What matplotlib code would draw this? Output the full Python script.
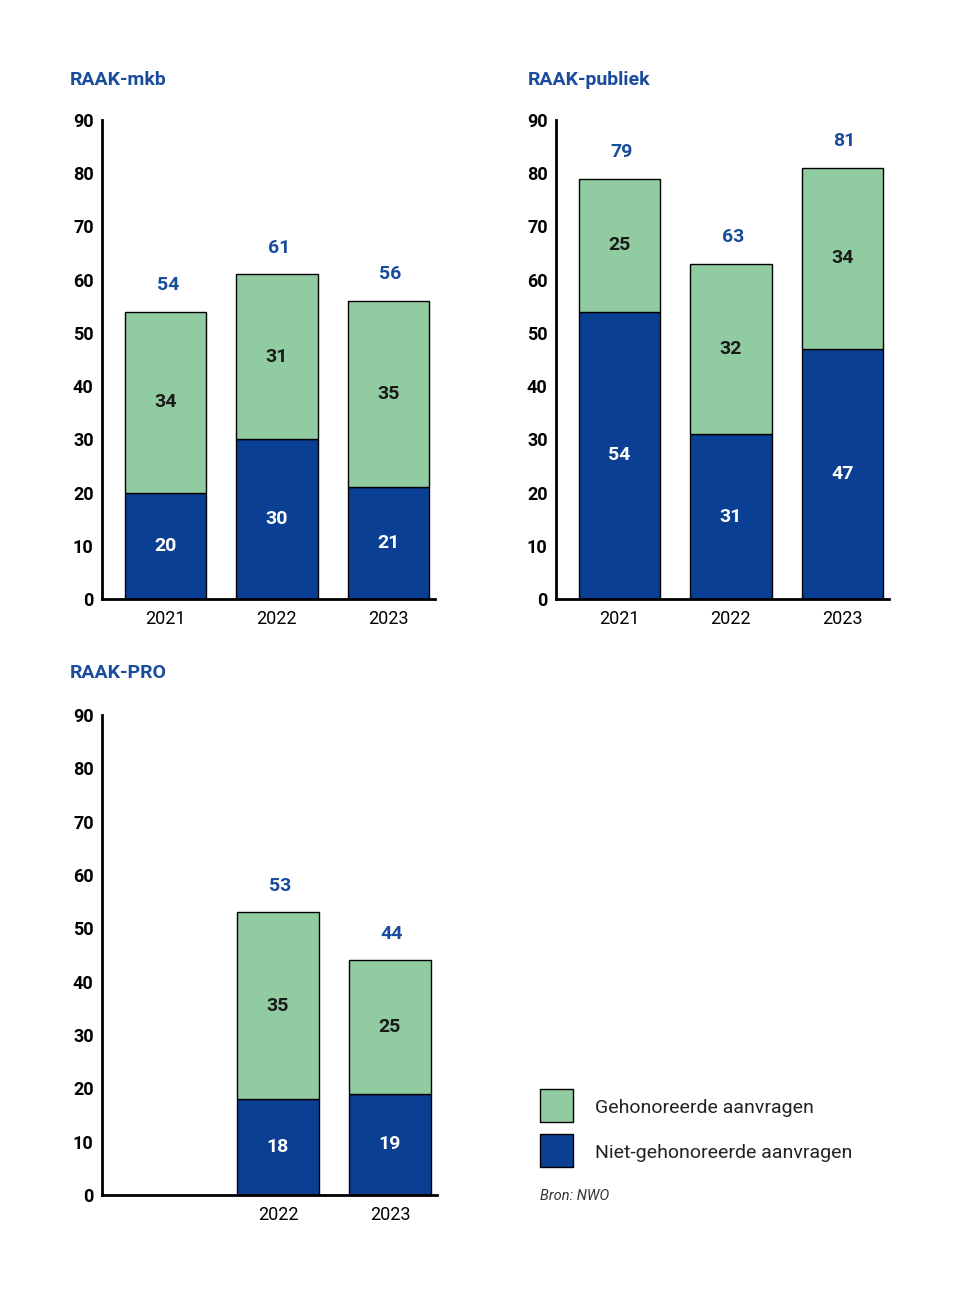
import matplotlib
matplotlib.use("Agg")
import matplotlib.pyplot as plt
from matplotlib.patches import Rectangle

GREEN = "#91CBA1"
BLUE = "#0B3F93"
TITLE = "#1A4C9C"

panels = ["RAAK-mkb", "RAAK-publiek", "RAAK-PRO"]
years = [["2021", "2022", "2023"], ["2021", "2022", "2023"], ["2022", "2023"]]
positions = [[0, 1, 2], [0, 1, 2], [1, 2]]
niet = [[20, 30, 21], [54, 31, 47], [18, 19]]
geh = [[34, 31, 35], [25, 32, 34], [35, 25]]

plt.rcParams['font.family'] = ['Roboto', 'DejaVu Sans']
fig = plt.figure(figsize=(9.59, 13.0), dpi=100)
W, H = 959, 1300
rects = [(102, 120, 435, 599), (556, 120, 889, 599), (102, 715, 437, 1195)]
titlepos = [(70, 80), (528, 80), (70, 673)]

for i, (x0, y0, x1, y1) in enumerate(rects):
    ax = fig.add_axes([x0 / W, 1 - y1 / H, (x1 - x0) / W, (y1 - y0) / H])
    pos = positions[i]
    ax.bar(pos, niet[i], width=0.73, color=BLUE, edgecolor="black", linewidth=1)
    ax.bar(pos, geh[i], bottom=niet[i], width=0.73, color=GREEN, edgecolor="black", linewidth=1)
    for p, n, g in zip(pos, niet[i], geh[i]):
        ax.text(p, n / 2, str(n), ha="center", va="center", color="white", fontsize=14, fontweight="bold")
        ax.text(p, n + g / 2, str(g), ha="center", va="center", color="#1a1a1a", fontsize=14, fontweight="bold")
        ax.text(p + 0.02, n + g + 5, str(n + g), ha="center", va="center", color=TITLE, fontsize=14, fontweight="bold")
    ax.set_xlim(-0.57, 2.42)
    ax.set_ylim(0, 90)
    ax.set_yticks(range(0, 91, 10))
    ax.set_xticks(pos)
    ax.set_xticklabels(years[i], fontsize=13)
    for lab in ax.get_yticklabels():
        lab.set_fontweight("bold")
        lab.set_fontsize(13)
    ax.tick_params(length=0, pad=6)
    ax.tick_params(axis="x", pad=8)
    for s in ["top", "right"]:
        ax.spines[s].set_visible(False)
    for s in ["left", "bottom"]:
        ax.spines[s].set_linewidth(2)
    tx, ty = titlepos[i]
    fig.text(tx / W, 1 - ty / H, panels[i], color=TITLE, fontsize=14, fontweight="bold", va="center")

# legend
fig.patches.append(Rectangle((540 / W, 1 - 1122 / H), 33 / W, 33 / H, transform=fig.transFigure,
                             facecolor=GREEN, edgecolor="black", linewidth=1))
fig.patches.append(Rectangle((540 / W, 1 - 1167 / H), 33 / W, 33 / H, transform=fig.transFigure,
                             facecolor=BLUE, edgecolor="black", linewidth=1))
fig.text(595 / W, 1 - 1108 / H, "Gehonoreerde aanvragen", fontsize=14, va="center", color="#222222")
fig.text(595 / W, 1 - 1153 / H, "Niet-gehonoreerde aanvragen", fontsize=14, va="center", color="#222222")
fig.text(540 / W, 1 - 1196 / H, "Bron: NWO", fontsize=10.5, style="italic", va="center", color="#333333")

fig.savefig("out.png", dpi=100, facecolor="white")
